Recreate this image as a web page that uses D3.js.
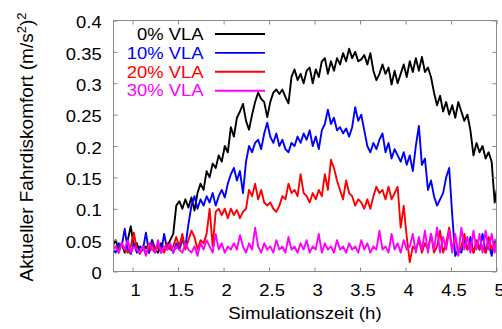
<!DOCTYPE html>
<html>
<head>
<meta charset="utf-8">
<script src="https://cdn.jsdelivr.net/npm/d3@7"></script>
<style>
  html, body { margin: 0; padding: 0; background: #fff; }
  svg { display: block; }
  text { font-family: "Liberation Sans", Arial, sans-serif; }
</style>
</head>
<body>
<svg id="chart" width="502" height="329"></svg>
<script>
// Sampling grid: one sample every two minutes (in hours)
const sampleStart = 0.78;
const sampleStep = 1 / 30;

// Ride-comfort values per share of automated vehicles (VLA)
const vla0 = [
  0.040, 0.050, 0.035, 0.045, 0.030, 0.050, 0.072, 0.040, 0.045, 0.030,
  0.035, 0.040, 0.030, 0.050, 0.035, 0.030, 0.045, 0.035, 0.040, 0.050,
  0.060, 0.105, 0.112, 0.100, 0.115, 0.102, 0.118, 0.097, 0.125, 0.140,
  0.130, 0.160, 0.150, 0.172, 0.165, 0.185, 0.175, 0.200, 0.190, 0.230,
  0.215, 0.245, 0.255, 0.267, 0.240, 0.226, 0.250, 0.270, 0.285, 0.275,
  0.270, 0.246, 0.270, 0.285, 0.290, 0.283, 0.290, 0.278, 0.268, 0.310,
  0.322, 0.305, 0.315, 0.300, 0.320, 0.325, 0.300, 0.322, 0.310, 0.335,
  0.340, 0.315, 0.335, 0.320, 0.340, 0.330, 0.348, 0.335, 0.355, 0.340,
  0.350, 0.335, 0.338, 0.345, 0.330, 0.348, 0.320, 0.305, 0.315, 0.330,
  0.315, 0.325, 0.298, 0.320, 0.300, 0.315, 0.330, 0.310, 0.335, 0.318,
  0.340, 0.320, 0.342, 0.318, 0.325, 0.310, 0.285, 0.265, 0.280, 0.255,
  0.270, 0.250, 0.265, 0.245, 0.270, 0.255, 0.240, 0.250, 0.225, 0.185,
  0.205, 0.190, 0.200, 0.180, 0.190, 0.175, 0.110, 0.140
];
const vla10 = [
  0.035, 0.030, 0.045, 0.040, 0.068, 0.035, 0.028, 0.045, 0.030, 0.040,
  0.035, 0.062, 0.030, 0.050, 0.035, 0.045, 0.030, 0.060, 0.035, 0.040,
  0.030, 0.045, 0.035, 0.050, 0.040, 0.075, 0.105, 0.120, 0.100, 0.115,
  0.105, 0.120, 0.110, 0.125, 0.105, 0.120, 0.130, 0.118, 0.140, 0.155,
  0.165, 0.145, 0.160, 0.125, 0.175, 0.200, 0.190, 0.205, 0.210, 0.195,
  0.220, 0.237, 0.215, 0.205, 0.220, 0.200, 0.210, 0.195, 0.190, 0.205,
  0.200, 0.215, 0.205, 0.220, 0.210, 0.225, 0.200, 0.215, 0.195, 0.225,
  0.235, 0.258, 0.235, 0.245, 0.225, 0.230, 0.220, 0.228, 0.215, 0.230,
  0.262, 0.240, 0.250, 0.225, 0.200, 0.190, 0.205, 0.195, 0.210, 0.220,
  0.190, 0.205, 0.180, 0.195, 0.185, 0.175, 0.190, 0.170, 0.185, 0.160,
  0.200, 0.232, 0.170, 0.180, 0.130, 0.145, 0.120, 0.105, 0.115, 0.125,
  0.150, 0.165, 0.090, 0.025, 0.035, 0.030, 0.050, 0.035, 0.055, 0.030,
  0.045, 0.035, 0.060, 0.030, 0.045, 0.025, 0.050, 0.040
];
const vla20 = [
  0.035, 0.040, 0.030, 0.045, 0.035, 0.030, 0.040, 0.062, 0.035, 0.028,
  0.040, 0.030, 0.035, 0.045, 0.030, 0.040, 0.035, 0.030, 0.045, 0.035,
  0.040, 0.055, 0.040, 0.060, 0.035, 0.050, 0.065, 0.055, 0.035, 0.050,
  0.045, 0.060, 0.100, 0.040, 0.095, 0.100, 0.090, 0.100, 0.085, 0.100,
  0.090, 0.098, 0.085, 0.095, 0.100, 0.130, 0.120, 0.140, 0.115, 0.130,
  0.110, 0.105, 0.110, 0.100, 0.095, 0.105, 0.120, 0.115, 0.140, 0.125,
  0.130, 0.120, 0.155, 0.125, 0.120, 0.110, 0.125, 0.115, 0.130, 0.120,
  0.155, 0.130, 0.178, 0.165, 0.145, 0.130, 0.115, 0.145, 0.125, 0.120,
  0.105, 0.115, 0.110, 0.100, 0.115, 0.100, 0.120, 0.135, 0.125, 0.130,
  0.115, 0.135, 0.115, 0.125, 0.135, 0.070, 0.105, 0.055, 0.015, 0.040,
  0.035, 0.050, 0.030, 0.045, 0.035, 0.060, 0.030, 0.040, 0.065, 0.030,
  0.045, 0.070, 0.035, 0.055, 0.030, 0.040, 0.060, 0.035, 0.045, 0.030,
  0.050, 0.035, 0.040, 0.030, 0.055, 0.035, 0.045, 0.030
];
const vla30 = [
  0.035, 0.040, 0.030, 0.045, 0.035, 0.050, 0.030, 0.040, 0.035, 0.030,
  0.040, 0.025, 0.045, 0.035, 0.030, 0.050, 0.030, 0.040, 0.035, 0.045,
  0.030, 0.040, 0.035, 0.030, 0.045, 0.035, 0.030, 0.040, 0.025, 0.045,
  0.035, 0.050, 0.040, 0.030, 0.060, 0.035, 0.045, 0.030, 0.040, 0.035,
  0.045, 0.035, 0.058, 0.040, 0.030, 0.045, 0.035, 0.070, 0.040, 0.030,
  0.045, 0.035, 0.040, 0.030, 0.050, 0.035, 0.040, 0.030, 0.055, 0.035,
  0.040, 0.030, 0.045, 0.035, 0.050, 0.030, 0.040, 0.035, 0.060, 0.030,
  0.045, 0.035, 0.040, 0.030, 0.050, 0.035, 0.040, 0.030, 0.045, 0.035,
  0.040, 0.030, 0.050, 0.035, 0.045, 0.030, 0.040, 0.035, 0.065, 0.035,
  0.040, 0.030, 0.060, 0.035, 0.045, 0.030, 0.050, 0.035, 0.040, 0.060,
  0.030, 0.055, 0.035, 0.065, 0.030, 0.060, 0.035, 0.070, 0.030, 0.055,
  0.035, 0.065, 0.030, 0.060, 0.025, 0.070, 0.035, 0.055, 0.030, 0.065,
  0.035, 0.060, 0.030, 0.065, 0.035, 0.060, 0.030, 0.065
];

const seriesNames = ["0% VLA", "10% VLA", "20% VLA", "30% VLA"];
const seriesColors = ["#000000", "#0000ff", "#ff0000", "#ff00ff"];
const seriesValues = [vla0, vla10, vla20, vla30];

const xTicks = [1, 1.5, 2, 2.5, 3, 3.5, 4, 4.5, 5];
const xTickLabels = ["1", "1.5", "2", "2.5", "3", "3.5", "4", "4.5", "5"];
const yTicks = [0, 0.05, 0.1, 0.15, 0.2, 0.25, 0.3, 0.35, 0.4];
const yTickLabels = ["0", "0.05", "0.1", "0.15", "0.2", "0.25", "0.3", "0.35", "0.4"];

const xTitle = "Simulationszeit (h)";

// Plot area
const plotL = 113.5, plotR = 496.5, plotT = 20.5, plotB = 271.5;
const stretch = 1.15; // horizontal widening of the labels

const svg = d3.select("#chart");
const x = d3.scaleLinear().domain([0.79, 5]).range([plotL, plotR]);
const y = d3.scaleLinear().domain([0, 0.4]).range([plotB, plotT]);

const hours = vla0.map((_, i) => sampleStart + i * sampleStep);

// Clip for the curves
svg.append("defs").append("clipPath").attr("id", "plot-clip")
  .append("rect").attr("x", plotL).attr("y", plotT)
  .attr("width", plotR - plotL).attr("height", plotB - plotT);

const line = d3.line()
  .x((d, i) => x(hours[i]))
  .y(d => y(d));

const curves = svg.append("g").attr("clip-path", "url(#plot-clip)");
seriesValues.forEach((vals, k) => {
  curves.append("path")
    .datum(vals)
    .attr("d", line)
    .attr("fill", "none")
    .attr("stroke", seriesColors[k])
    .attr("stroke-width", 1.9)
    .attr("stroke-linejoin", "round");
});

// Axes: inward ticks on all four sides
const frameColor = "#888888";
function styleAxis(g) {
  g.select(".domain").remove();
  g.selectAll(".tick line").attr("stroke", frameColor).attr("stroke-width", 1);
}

const xAxis = svg.append("g").attr("transform", `translate(0,${plotB})`)
  .call(d3.axisBottom(x).tickValues(xTicks).tickSizeInner(-4).tickSizeOuter(0)
    .tickFormat((d, i) => xTickLabels[i]));
styleAxis(xAxis);
xAxis.selectAll(".tick text")
  .attr("x", 2.2).attr("y", 25).attr("dy", null)
  .attr("transform", `scale(${stretch},1)`)
  .attr("fill", "#000").attr("font-size", 16)
  .attr("font-family", "Liberation Sans, Arial, sans-serif");

const yAxis = svg.append("g").attr("transform", `translate(${plotL},0)`)
  .call(d3.axisLeft(y).tickValues(yTicks).tickSizeInner(-4).tickSizeOuter(0)
    .tickFormat((d, i) => yTickLabels[i]));
styleAxis(yAxis);
yAxis.selectAll(".tick text")
  .attr("x", -10.3).attr("dy", "0.45em")
  .attr("transform", `scale(${stretch},1)`)
  .attr("fill", "#000").attr("font-size", 16)
  .attr("font-family", "Liberation Sans, Arial, sans-serif");

const xAxisTop = svg.append("g").attr("transform", `translate(0,${plotT})`)
  .call(d3.axisTop(x).tickValues(xTicks).tickSizeInner(-4).tickSizeOuter(0).tickFormat(""));
styleAxis(xAxisTop);

const yAxisRight = svg.append("g").attr("transform", `translate(${plotR},0)`)
  .call(d3.axisRight(y).tickValues(yTicks).tickSizeInner(-4).tickSizeOuter(0).tickFormat(""));
styleAxis(yAxisRight);

// Frame
svg.append("rect")
  .attr("x", plotL).attr("y", plotT)
  .attr("width", plotR - plotL).attr("height", plotB - plotT)
  .attr("fill", "none").attr("stroke", frameColor).attr("stroke-width", 1);

// Legend
const legend = svg.append("g");
seriesNames.forEach((name, k) => {
  const ly = 34 + k * 18.9;
  legend.append("text")
    .attr("transform", `translate(203.5,${ly}) scale(${stretch},1)`)
    .attr("text-anchor", "end")
    .attr("dy", "0.36em")
    .attr("font-size", 16)
    .attr("fill", seriesColors[k])
    .text(name);
  legend.append("line")
    .attr("x1", 215).attr("x2", 265)
    .attr("y1", ly).attr("y2", ly)
    .attr("stroke", seriesColors[k]).attr("stroke-width", 1.9);
});

// Axis titles
svg.append("text")
  .attr("transform", `translate(305,319) scale(1.13,1)`)
  .attr("text-anchor", "middle")
  .attr("font-size", 16.5)
  .attr("fill", "#000")
  .text(xTitle);

const yTitle = svg.append("text")
  .attr("transform", "translate(33.3,147) rotate(-90)")
  .attr("text-anchor", "middle")
  .attr("font-size", 19)
  .attr("fill", "#000");
yTitle.append("tspan").text("Aktueller Fahrdiskomfort (m/s");
yTitle.append("tspan").attr("font-size", 13).attr("dy", -7).text("2");
yTitle.append("tspan").attr("dy", 7).text(")");
yTitle.append("tspan").attr("font-size", 13).attr("dy", -7).text("2");
</script>
</body>
</html>
